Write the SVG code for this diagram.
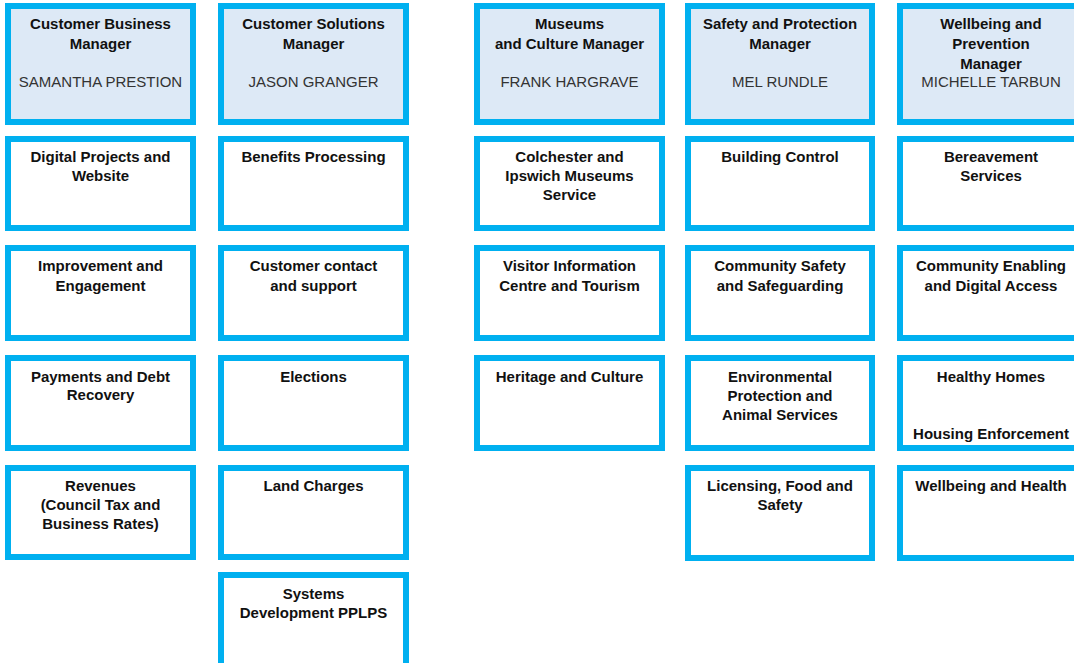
<svg xmlns="http://www.w3.org/2000/svg" width="1074" height="663" viewBox="0 0 1074 663">
<style>
.box{fill:#ffffff;stroke:#00b0f0;stroke-width:6}
.hdr{fill:#dde9f6;stroke:#00b0f0;stroke-width:6}
.t{font-family:"Liberation Sans",Arial,sans-serif;font-size:15px;font-weight:bold;fill:#111;text-anchor:middle}
.n{font-family:"Liberation Sans",Arial,sans-serif;font-size:15px;fill:#333;text-anchor:middle}
</style>
<rect width="1074" height="663" fill="#ffffff"/>
<g id="connectors"/>
<!-- Row 1 headers -->
<g id="h1"><rect class="hdr" x="8" y="6" width="185" height="116"/><text class="t" x="100.5" y="29">Customer Business</text><text class="t" x="100.5" y="49">Manager</text><text class="n" x="100.5" y="87">SAMANTHA PRESTION</text></g>
<g id="h2"><rect class="hdr" x="221" y="6" width="185" height="116"/><text class="t" x="313.5" y="29">Customer Solutions</text><text class="t" x="313.5" y="49">Manager</text><text class="n" x="313.5" y="87">JASON GRANGER</text></g>
<g id="h3"><rect class="hdr" x="477" y="6" width="185" height="116"/><text class="t" x="569.5" y="29">Museums</text><text class="t" x="569.5" y="49">and Culture Manager</text><text class="n" x="569.5" y="87">FRANK HARGRAVE</text></g>
<g id="h4"><rect class="hdr" x="688" y="6" width="184" height="116"/><text class="t" x="780" y="29">Safety and Protection</text><text class="t" x="780" y="49">Manager</text><text class="n" x="780" y="87">MEL RUNDLE</text></g>
<g id="h5"><rect class="hdr" x="900" y="6" width="184" height="116"/><text class="t" x="991" y="29">Wellbeing and</text><text class="t" x="991" y="49">Prevention</text><text class="t" x="991" y="69">Manager</text><text class="n" x="991" y="87">MICHELLE TARBUN</text></g>
<!-- Column 1 -->
<g id="c1r2"><rect class="box" x="8" y="139" width="185" height="89"/><text class="t" x="100.5" y="162">Digital Projects and</text><text class="t" x="100.5" y="181">Website</text></g>
<g id="c1r3"><rect class="box" x="8" y="248" width="185" height="90"/><text class="t" x="100.5" y="271">Improvement and</text><text class="t" x="100.5" y="291">Engagement</text></g>
<g id="c1r4"><rect class="box" x="8" y="358" width="185" height="90"/><text class="t" x="100.5" y="382">Payments and Debt</text><text class="t" x="100.5" y="400">Recovery</text></g>
<g id="c1r5"><rect class="box" x="8" y="468" width="185" height="89"/><text class="t" x="100.5" y="491">Revenues</text><text class="t" x="100.5" y="510">(Council Tax and</text><text class="t" x="100.5" y="529">Business Rates)</text></g>
<!-- Column 2 -->
<g id="c2r2"><rect class="box" x="221" y="139" width="185" height="89"/><text class="t" x="313.5" y="162">Benefits Processing</text></g>
<g id="c2r3"><rect class="box" x="221" y="248" width="185" height="90"/><text class="t" x="313.5" y="271">Customer contact</text><text class="t" x="313.5" y="291">and support</text></g>
<g id="c2r4"><rect class="box" x="221" y="358" width="185" height="90"/><text class="t" x="313.5" y="382">Elections</text></g>
<g id="c2r5"><rect class="box" x="221" y="468" width="185" height="89"/><text class="t" x="313.5" y="491">Land Charges</text></g>
<g id="c2r6"><rect class="box" x="221" y="575" width="185" height="100"/><text class="t" x="313.5" y="599">Systems</text><text class="t" x="313.5" y="618">Development PPLPS</text></g>
<!-- Column 3 -->
<g id="c3r2"><rect class="box" x="477" y="139" width="185" height="89"/><text class="t" x="569.5" y="162">Colchester and</text><text class="t" x="569.5" y="181">Ipswich Museums</text><text class="t" x="569.5" y="200">Service</text></g>
<g id="c3r3"><rect class="box" x="477" y="248" width="185" height="90"/><text class="t" x="569.5" y="271">Visitor Information</text><text class="t" x="569.5" y="291">Centre and Tourism</text></g>
<g id="c3r4"><rect class="box" x="477" y="358" width="185" height="90"/><text class="t" x="569.5" y="382">Heritage and Culture</text></g>
<!-- Column 4 -->
<g id="c4r2"><rect class="box" x="688" y="139" width="184" height="89"/><text class="t" x="780" y="162">Building Control</text></g>
<g id="c4r3"><rect class="box" x="688" y="248" width="184" height="90"/><text class="t" x="780" y="271">Community Safety</text><text class="t" x="780" y="291">and Safeguarding</text></g>
<g id="c4r4"><rect class="box" x="688" y="358" width="184" height="90"/><text class="t" x="780" y="382">Environmental</text><text class="t" x="780" y="401">Protection and</text><text class="t" x="780" y="420">Animal Services</text></g>
<g id="c4r5"><rect class="box" x="688" y="468" width="184" height="90"/><text class="t" x="780" y="491">Licensing, Food and</text><text class="t" x="780" y="510">Safety</text></g>
<!-- Column 5 -->
<g id="c5r2"><rect class="box" x="900" y="139" width="184" height="89"/><text class="t" x="991" y="162">Bereavement</text><text class="t" x="991" y="181">Services</text></g>
<g id="c5r3"><rect class="box" x="900" y="248" width="184" height="90"/><text class="t" x="991" y="271">Community Enabling</text><text class="t" x="991" y="291">and Digital Access</text></g>
<g id="c5r4"><rect class="box" x="900" y="358" width="184" height="90"/><text class="t" x="991" y="382">Healthy Homes</text><text class="t" x="991" y="439">Housing Enforcement</text></g>
<g id="c5r5"><rect class="box" x="900" y="468" width="184" height="90"/><text class="t" x="991" y="491">Wellbeing and Health</text></g>
</svg>
